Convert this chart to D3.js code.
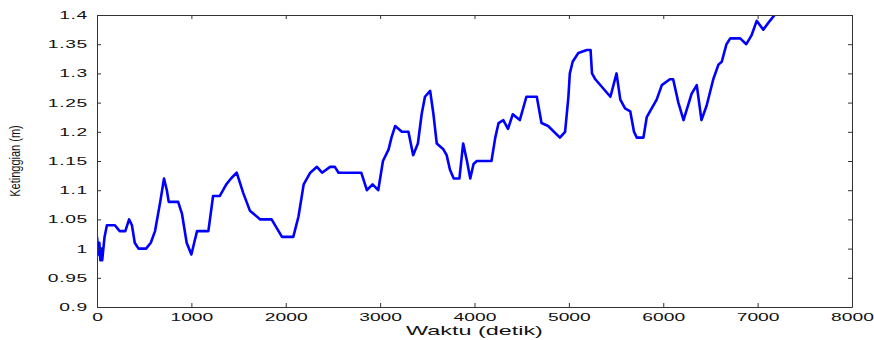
<!DOCTYPE html>
<html>
<head>
<meta charset="utf-8">
<script src="https://cdn.jsdelivr.net/npm/d3@7"></script>
<style>
  body { margin: 0; background: #fff; }
  svg text { font-family: "Liberation Sans", Arial, sans-serif; fill: #111; }
</style>
</head>
<body>
<script>
// time (s) and water level (m)
var waktu = [0, 15, 25, 35, 45, 55, 80, 105, 190, 240, 300, 340, 370, 400, 440, 520, 570, 615, 670, 710,
  740, 760, 860, 900, 950, 1000, 1030, 1060, 1180, 1230, 1300, 1370, 1420, 1480, 1550, 1620, 1730, 1850, 1960, 2080,
  2135, 2190, 2260, 2330, 2385, 2470, 2520, 2560, 2800, 2860, 2920, 2980, 3030, 3090, 3120, 3160, 3230, 3300, 3350, 3400,
  3440, 3475, 3530, 3565, 3600, 3670, 3705, 3740, 3780, 3840, 3880, 3920, 3955, 3990, 4025, 4180, 4220, 4255, 4305, 4355,
  4405, 4480, 4550, 4660, 4710, 4780, 4905, 4960, 4995, 5010, 5040, 5100, 5190, 5230, 5245, 5280, 5440, 5505, 5545, 5595,
  5650, 5690, 5720, 5790, 5825, 5930, 5985, 6070, 6105, 6160, 6215, 6300, 6355, 6405, 6460, 6530, 6585, 6620, 6670, 6710,
  6815, 6880, 6935, 6990, 7060, 7130, 7180, 7250];
var ketinggian = [1.02, 0.99, 1.01, 0.98, 1.00, 0.98, 1.02, 1.04, 1.04, 1.03, 1.03, 1.05, 1.04, 1.01, 1.00, 1.00, 1.01, 1.03, 1.08, 1.12,
  1.10, 1.08, 1.08, 1.06, 1.01, 0.99, 1.01, 1.03, 1.03, 1.09, 1.09, 1.11, 1.12, 1.13, 1.095, 1.065, 1.05, 1.05, 1.02, 1.02,
  1.055, 1.11, 1.13, 1.14, 1.13, 1.14, 1.14, 1.13, 1.13, 1.10, 1.11, 1.10, 1.15, 1.17, 1.19, 1.21, 1.20, 1.20, 1.16, 1.18,
  1.23, 1.26, 1.27, 1.23, 1.18, 1.17, 1.16, 1.135, 1.12, 1.12, 1.18, 1.15, 1.12, 1.145, 1.15, 1.15, 1.19, 1.215, 1.22, 1.205,
  1.23, 1.22, 1.26, 1.26, 1.215, 1.21, 1.19, 1.20, 1.26, 1.30, 1.32, 1.335, 1.34, 1.34, 1.30, 1.29, 1.26, 1.30, 1.255, 1.24,
  1.235, 1.20, 1.19, 1.19, 1.225, 1.255, 1.28, 1.29, 1.29, 1.25, 1.22, 1.265, 1.28, 1.22, 1.245, 1.29, 1.315, 1.32, 1.35, 1.36,
  1.36, 1.35, 1.365, 1.39, 1.375, 1.39, 1.40, 1.41];

var xTicks = [0, 1000, 2000, 3000, 4000, 5000, 6000, 7000, 8000];
var yTicks = [0.9, 0.95, 1, 1.05, 1.1, 1.15, 1.2, 1.25, 1.3, 1.35, 1.4];

var margin = { top: 15, right: 22, bottom: 33, left: 97 },
    width = 874 - margin.left - margin.right,
    height = 340 - margin.top - margin.bottom;
var stretch = 1.75;

var x = d3.scaleLinear().domain([0, 8000]).range([0, width]);
var y = d3.scaleLinear().domain([0.9, 1.4]).range([height, 0]);

var svg = d3.select("body").append("svg")
    .attr("width", 874)
    .attr("height", 340)
  .append("g")
    .attr("transform", "translate(" + margin.left + "," + margin.top + ")");

svg.append("clipPath").attr("id", "plot")
  .append("rect").attr("width", width).attr("height", height);

var data = waktu.map(function (t, i) { return { t: t, v: ketinggian[i] }; });

var line = d3.line()
    .x(function (d) { return x(d.t); })
    .y(function (d) { return y(d.v); });

svg.append("path")
    .datum(data)
    .attr("clip-path", "url(#plot)")
    .attr("fill", "none")
    .attr("stroke", "#0000ff")
    .attr("stroke-width", 2.6)
    .attr("stroke-linejoin", "round")
    .attr("d", line);

// axes, MATLAB style box with inward ticks
var bottom = svg.append("g")
    .attr("transform", "translate(0," + height + ")")
    .call(d3.axisBottom(x).tickValues(xTicks).tickSizeInner(-4).tickSizeOuter(0).tickPadding(6)
      .tickFormat(d3.format("d")));
bottom.selectAll("text")
    .attr("transform", "scale(" + stretch + ",1)")
    .style("font-size", "11px");

var left = svg.append("g")
    .call(d3.axisLeft(y).tickValues(yTicks).tickSizeInner(-4).tickSizeOuter(0)
      .tickFormat(function (d) { return String(d); }));
left.selectAll("text")
    .attr("x", -9 / stretch)
    .attr("transform", "scale(" + stretch + ",1)")
    .style("font-size", "11px")
    .style("letter-spacing", "0.4px");

svg.append("g")
    .call(d3.axisTop(x).tickValues(xTicks).tickSizeInner(-4).tickSizeOuter(0).tickFormat(""));
svg.append("g")
    .attr("transform", "translate(" + width + ",0)")
    .call(d3.axisRight(y).tickValues(yTicks).tickSizeInner(-4).tickSizeOuter(0).tickFormat(""));

svg.selectAll(".domain, .tick line").attr("stroke", "#333");

svg.append("text")
    .attr("transform", "translate(" + (width / 2) + "," + (height + 28) + ") scale(1.8,1)")
    .attr("text-anchor", "middle")
    .style("font-size", "13px")
    .text("Waktu (detik)");

svg.append("text")
    .attr("transform", "translate(" + (20 - margin.left) + "," + (height / 2) + ") scale(1.3,1) rotate(-90)")
    .attr("text-anchor", "middle")
    .style("font-size", "11px")
    .text("Ketinggian (m)");
</script>
</body>
</html>
